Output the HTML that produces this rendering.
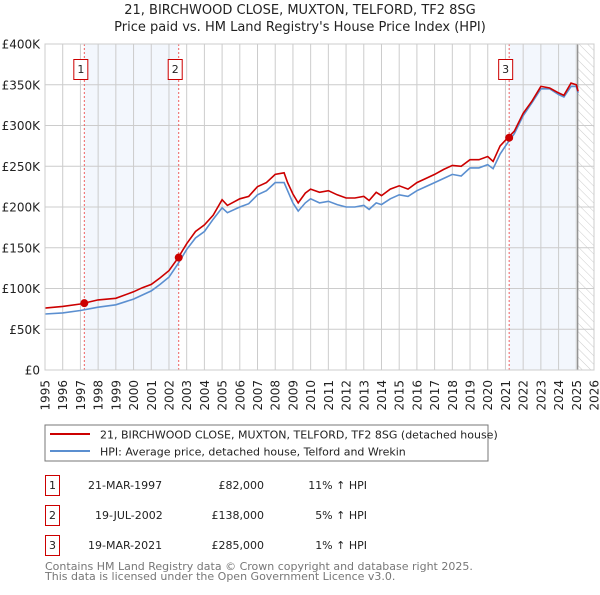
<!DOCTYPE html>
<html><head><meta charset="utf-8"><style>
body{margin:0;background:#fff;font-family:"Liberation Sans","DejaVu Sans",sans-serif}
svg text{font-family:"DejaVu Sans","Liberation Sans",sans-serif}
</style></head><body>
<svg id="c" width="600" height="590" xmlns="http://www.w3.org/2000/svg">
<defs><pattern id="hatch" width="6" height="6" patternUnits="userSpaceOnUse" patternTransform="rotate(-45)"><line x1="0" y1="0" x2="0" y2="6" stroke="#ccc" stroke-width="1"/></pattern></defs>
<text x="300" y="14" text-anchor="middle" font-size="13" fill="#222">21, BIRCHWOOD CLOSE, MUXTON, TELFORD, TF2 8SG</text>
<text x="300" y="31" text-anchor="middle" font-size="13" fill="#222">Price paid vs. HM Land Registry's House Price Index (HPI)</text>
<g id="plot"></g>
<rect x="45" y="425" width="443" height="36" fill="#fff" stroke="#777"/>
<line x1="50" y1="434" x2="90" y2="434" stroke="#cc0000" stroke-width="2"/>
<text x="100" y="438.5" font-size="11" fill="#222">21, BIRCHWOOD CLOSE, MUXTON, TELFORD, TF2 8SG (detached house)</text>
<line x1="50" y1="451" x2="90" y2="451" stroke="#5b8fd0" stroke-width="2"/>
<text x="100" y="455.5" font-size="11" fill="#222">HPI: Average price, detached house, Telford and Wrekin</text>
<g font-size="11" fill="#222">
<rect x="45.5" y="475.5" width="14" height="20" fill="none" stroke="#cc0000"/><text x="52.5" y="489" text-anchor="middle">1</text>
<text x="88" y="489">21-MAR-1997</text><text x="264" y="489" text-anchor="end">£82,000</text><text x="367" y="489" text-anchor="end">11% ↑ HPI</text>
<rect x="45.5" y="505.5" width="14" height="20" fill="none" stroke="#cc0000"/><text x="52.5" y="519" text-anchor="middle">2</text>
<text x="95" y="519">19-JUL-2002</text><text x="264" y="519" text-anchor="end">£138,000</text><text x="367" y="519" text-anchor="end">5% ↑ HPI</text>
<rect x="45.5" y="535.5" width="14" height="20" fill="none" stroke="#cc0000"/><text x="52.5" y="549" text-anchor="middle">3</text>
<text x="88" y="549">19-MAR-2021</text><text x="264" y="549" text-anchor="end">£285,000</text><text x="367" y="549" text-anchor="end">1% ↑ HPI</text>
</g>
<text x="45" y="570" font-size="11" fill="#777">Contains HM Land Registry data © Crown copyright and database right 2025.</text>
<text x="45" y="580" font-size="11" fill="#777">This data is licensed under the Open Government Licence v3.0.</text>
</svg>
<script>
const years=[1995,1996,1997,1998,1999,2000,2000.5,2001,2001.5,2002,2002.5,2003,2003.5,2004,2004.5,2005,2005.3,2006,2006.5,2007,2007.5,2008,2008.5,2008.7,2009,2009.3,2009.7,2010,2010.5,2011,2011.5,2012,2012.5,2013,2013.3,2013.7,2014,2014.5,2015,2015.5,2016,2016.5,2017,2017.5,2018,2018.5,2019,2019.5,2020,2020.3,2020.7,2021,2021.5,2022,2022.5,2023,2023.5,2024,2024.3,2024.7,2025,2025.1];
const hpi=[68.7,70,73,77,80,87,92,97,105,114,130,148,162,170,185,199,193,200,204,215,220,230,230,220,205,195,205,210,205,207,203,200,200,202,197,205,203,210,215,213,220,225,230,235,240,238,248,248,252,247,265,275,290,312,328,345,345,338,335,348,348,340];
const property=[76,78,81,86,88,96,101,105,113,122,137,155,170,178,190,209,202,210,213,225,230,240,242,230,216,205,217,222,218,220,215,211,211,213,208,218,214,222,226,222,230,235,240,246,251,250,258,258,262,256,275,282,293,315,330,348,346,340,337,352,350,342];
const saleYears=[1997.22,2002.55,2021.21];
const salePrices=[82,138,285];
const saleLabels=["1","2","3"];
const yTicks=[0,50,100,150,200,250,300,350,400];
const yTickLabels=["£0","£50K","£100K","£150K","£200K","£250K","£300K","£350K","£400K"];
const xTicks=[1995,1996,1997,1998,1999,2000,2001,2002,2003,2004,2005,2006,2007,2008,2009,2010,2011,2012,2013,2014,2015,2016,2017,2018,2019,2020,2021,2022,2023,2024,2025,2026];
const dataEnd=2025.08;

const X0=45,X1=594,Y0=370,Y1=44;
const sx=v=>X0+(v-1995)/(2026-1995)*(X1-X0);
const sy=v=>Y0-v/400*(Y0-Y1);
const NS="http://www.w3.org/2000/svg";
const g=document.getElementById('plot');
function mk(t,a,p){const e=document.createElementNS(NS,t);for(const k in a)e.setAttribute(k,a[k]);(p||g).appendChild(e);return e;}
let e;
e=mk('rect',{x:sx(saleYears[0]),y:Y1,width:sx(saleYears[1])-sx(saleYears[0]),height:Y0-Y1,fill:'#eef3fc',opacity:0.7});


e=mk('rect',{x:sx(saleYears[2]),y:Y1,width:sx(dataEnd)-sx(saleYears[2]),height:Y0-Y1,fill:'#eef3fc',opacity:0.7});


e=mk('rect',{x:sx(dataEnd),y:Y1,width:X1-sx(dataEnd),height:Y0-Y1,fill:'url(#hatch)'});


xTicks.forEach(t=>{const l=mk('line',{x1:sx(t),x2:sx(t),y1:Y1,y2:Y0,stroke:'#ccc','stroke-width':1});


const x=sx(t)+4.5,y=Y0+10;
const tx=mk('text',{x:x,y:y,'text-anchor':'end','font-size':12,fill:'#222',transform:'rotate(-90 '+x+' '+y+')'});tx.textContent=t;

});
yTicks.forEach((t,i)=>{const l=mk('line',{x1:X0,x2:X1,y1:sy(t),y2:sy(t),stroke:'#ccc','stroke-width':1});


const tx=mk('text',{x:X0-5,y:sy(t)+4.5,'text-anchor':'end','font-size':12,fill:'#222'});tx.textContent=yTickLabels[i];

});
e=mk('line',{x1:sx(dataEnd),x2:sx(dataEnd),y1:Y1,y2:Y0,stroke:'#888','stroke-width':1.2});


saleYears.forEach((s,i)=>{const l=mk('line',{x1:sx(s),x2:sx(s),y1:Y1,y2:Y0,stroke:'#f06060','stroke-dasharray':'2,2','stroke-width':1});


const r=mk('rect',{x:sx(s)-10.5,y:59.5,width:14,height:20,fill:'#fff',stroke:'#cc0000'});


const t=mk('text',{x:sx(s)-3.5,y:73,'text-anchor':'middle','font-size':11,fill:'#222'});t.textContent=saleLabels[i];

});
const pts=arr=>arr.map((v,i)=>sx(years[i]).toFixed(1)+','+sy(v).toFixed(1)).join(' ');
e=mk('polyline',{points:pts(hpi),fill:'none',stroke:'#5b8fd0','stroke-width':1.6});


e=mk('polyline',{points:pts(property),fill:'none',stroke:'#cc0000','stroke-width':1.6});


saleYears.forEach((s,i)=>{const c=mk('circle',{cx:sx(s),cy:sy(salePrices[i]),r:4,fill:'#cc0000'});

});
e=mk('rect',{x:X0,y:Y1,width:X1-X0,height:Y0-Y1,fill:'none',stroke:'#ccc'});


</script>
</body></html>
